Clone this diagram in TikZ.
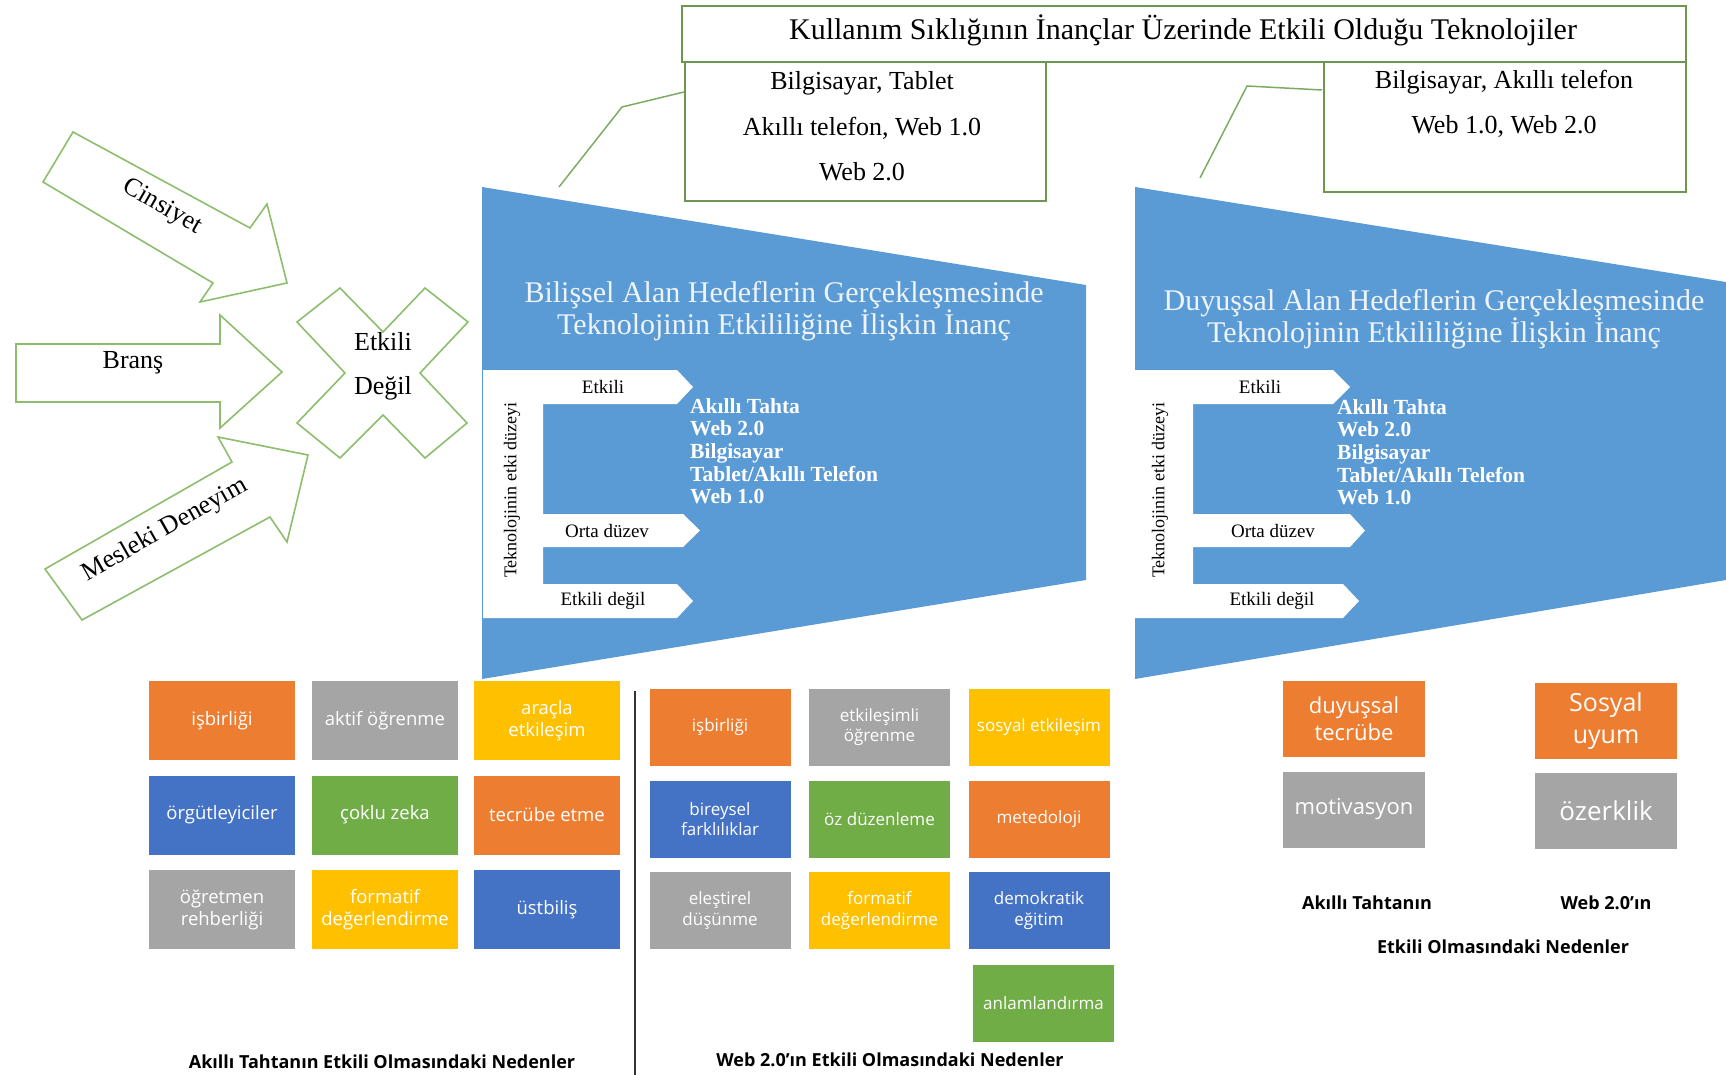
\documentclass[tikz,border=0pt]{standalone}
\usepackage{fontspec}
\setmainfont{Liberation Serif}
\newfontfamily\boxfont{Open Sans}
\definecolor{fblue}{RGB}{91,155,213}
\definecolor{corange}{RGB}{237,125,49}
\definecolor{cgray}{RGB}{165,165,165}
\definecolor{cgold}{RGB}{255,192,0}
\definecolor{cblue}{RGB}{68,114,196}
\definecolor{cgreen}{RGB}{112,173,71}
\definecolor{aline}{RGB}{140,190,110}
\definecolor{bline}{RGB}{110,150,80}
\definecolor{ftext}{RGB}{238,244,250}
\begin{document}
\begin{tikzpicture}[x=1pt,y=-1pt,
  arrowshape/.style={draw=aline,line width=1.6pt,fill=white,line join=miter},
  funnel/.style={fill=fblue},
  whiteE/.style={fill=white},
  bigserif/.style={font=\fontsize{26}{30}\selectfont,inner sep=0pt},
  ftitle/.style={font=\fontsize{30}{31}\selectfont,text=ftext,align=center,inner sep=0pt},
  lvl/.style={font=\fontsize{19}{22}\selectfont,inner sep=0pt},
  vert/.style={font=\fontsize{18}{20}\selectfont,rotate=90,inner sep=0pt},
  techlist/.style={font=\bfseries\fontsize{21.5}{22.7}\selectfont,text=white,align=left,anchor=north west,inner sep=0pt},
  topbox/.style={draw=bline,line width=1.4pt,inner sep=0pt},
  subtext/.style={font=\fontsize{26}{30}\selectfont,inner sep=0pt},
  tile/.style={minimum width=146pt,minimum height=79pt,inner sep=2pt,text=white,align=center,font=\boxfont\fontsize{18.5}{22}\selectfont},
  mtile/.style={minimum width=141pt,minimum height=77pt,inner sep=2pt,text=white,align=center,font=\boxfont\fontsize{17}{20.5}\selectfont},
  rtile/.style={minimum width=142pt,minimum height=76pt,inner sep=2pt,text=white,align=center,font=\boxfont\fontsize{22}{27}\selectfont},
  captext/.style={font=\boxfont\bfseries\fontsize{18}{20}\selectfont,inner sep=0pt},
  conn/.style={draw=aline!90!black,line width=1.5pt}
]
\useasboundingbox (0,0) rectangle (1726,1075);

% ---------- left input arrows ----------
\draw[arrowshape] (73,132) -- (250,228) -- (267,204) -- (287,283) -- (200,302) -- (213,283) -- (43,182) -- cycle;
\draw[arrowshape] (16,344) -- (220,344) -- (220,315) -- (282,372) -- (220,428) -- (220,402) -- (16,402) -- cycle;
\draw[arrowshape] (45,569) -- (232,462) -- (218,437) -- (308,455) -- (287,542) -- (270,517) -- (82,620) -- cycle;
\node[bigserif,rotate=-30] (cins) at (162,207) {Cinsiyet};
\node[bigserif] (brans) at (133,363) {Branş};
\node[bigserif,rotate=29.5] (mesl) at (165,530) {Mesleki Deneyim};

% ---------- X shape ----------
\draw[arrowshape] (340,288) -- (383,332) -- (425,288) -- (468,322) -- (420,373) -- (467,423) -- (425,458) -- (383,415) -- (340,458) -- (297,423) -- (345,373) -- (297,322) -- cycle;
\node[bigserif] (etk) at (383,342) {Etkili};
\node[bigserif] (deg) at (383,388) {Değil};

% ---------- top boxes ----------
\node[topbox,minimum width=1004pt,minimum height=56pt] (title) at (1184,34) {};
\node[font=\fontsize{30}{32}\selectfont,inner sep=0pt] (titletext) at (1183,30) {Kullanım Sıklığının İnançlar Üzerinde Etkili Olduğu Teknolojiler};
\node[topbox,minimum width=361pt,minimum height=139pt] (sub1) at (865.5,131.5) {};
\node[topbox,minimum width=362pt,minimum height=130pt] (sub2) at (1505,127) {};
\node[subtext] (s1a) at (862,83) {Bilgisayar, Tablet};
\node[subtext] (s1b) at (862,128) {Akıllı telefon, Web 1.0};
\node[subtext] (s1c) at (862,172) {Web 2.0};
\node[subtext] (s2a) at (1504,82) {Bilgisayar, Akıllı telefon};
\node[subtext] (s2b) at (1504,126) {Web 1.0, Web 2.0};

% ---------- funnels ----------
\fill[funnel] (482,187) -- (1086,285) -- (1086,580) -- (482,679) -- cycle;
\fill[funnel] (1135,187) -- (1726,282) -- (1726,580) -- (1135,679) -- cycle;

\fill[whiteE] (483,370) -- (677,370) -- (693,387) -- (677,404) -- (543,404) -- (543,514) -- (683,514) -- (700,530.5) -- (683,547) -- (543,547) -- (543,584) -- (677,584) -- (693,601) -- (677,618) -- (483,618) -- cycle;
\fill[whiteE] (1135,370) -- (1333,370) -- (1350,387) -- (1333,404) -- (1193,404) -- (1193,514) -- (1350,514) -- (1365,530.5) -- (1350,547) -- (1193,547) -- (1193,584) -- (1343,584) -- (1359,601) -- (1343,618) -- (1135,618) -- cycle;

\node[ftitle] (ft1) at (784,311) {Bilişsel Alan Hedeflerin Gerçekleşmesinde\\Teknolojinin Etkililiğine İlişkin İnanç};
\node[ftitle] (ft2) at (1434,319) {Duyuşsal Alan Hedeflerin Gerçekleşmesinde\\Teknolojinin Etkililiğine İlişkin İnanç};

\node[lvl] (l1a) at (603,387) {Etkili};
\node[lvl] (l1b) at (607,531) {Orta düzev};
\node[lvl] (l1c) at (603,601) {Etkili değil};
\node[vert] (v1) at (512,490) {Teknolojinin etki düzeyi};
\node[lvl] (l2a) at (1260,387) {Etkili};
\node[lvl] (l2b) at (1273,531) {Orta düzev};
\node[lvl] (l2c) at (1272,601) {Etkili değil};
\node[vert] (v2) at (1160,490) {Teknolojinin etki düzeyi};

\node[techlist] (tl1) at (690,398) {Akıllı Tahta\\Web 2.0\\Bilgisayar\\Tablet/Akıllı Telefon\\Web 1.0};
\node[techlist] (tl2) at (1337,399) {Akıllı Tahta\\Web 2.0\\Bilgisayar\\Tablet/Akıllı Telefon\\Web 1.0};

% ---------- connectors ----------
\coordinate (k1a) at (559,187);
\coordinate (k1b) at (622,107);
\coordinate (k1c) at (684,92);
\coordinate (k2a) at (1200,178);
\coordinate (k2b) at (1247,86);
\coordinate (k2c) at (1322,90);
\draw[conn] (k1a) -- (k1b) -- (k1c);
\draw[conn] (k2a) -- (k2b) -- (k2c);

% ---------- left tiles ----------
\node[tile,fill=corange] (a1) at (222,720.5) {işbirliği};
\node[tile,fill=cgray] (a2) at (385,720.5) {aktif öğrenme};
\node[tile,fill=cgold] (a3) at (547,720.5) {araçla\\etkileşim};
\node[tile,fill=cblue] (a4) at (222,815) {örgütleyiciler};
\node[tile,fill=cgreen] (a5) at (385,815) {çoklu zeka};
\node[tile,fill=corange] (a6) at (547,815) {tecrübe etme};
\node[tile,fill=cgray] (a7) at (222,909.5) {öğretmen\\rehberliği};
\node[tile,fill=cgold] (a8) at (385,909.5) {formatif\\değerlendirme};
\node[tile,fill=cblue] (a9) at (547,909.5) {üstbiliş};
\node[captext] (capA) at (382,1062) {Akıllı Tahtanın Etkili Olmasındaki Nedenler};

% divider
\coordinate (dv1) at (635,691);
\coordinate (dv2) at (635,1075);
\draw[line width=2.2pt,black!80] (dv1) -- (dv2);

% ---------- middle tiles ----------
\node[mtile,fill=corange] (b1) at (720,727) {işbirliği};
\node[mtile,fill=cgray] (b2) at (879.5,727) {etkileşimli\\öğrenme};
\node[mtile,fill=cgold] (b3) at (1039,727) {sosyal etkileşim};
\node[mtile,fill=cblue] (b4) at (720,819) {bireysel\\farklılıklar};
\node[mtile,fill=cgreen] (b5) at (879.5,819) {öz düzenleme};
\node[mtile,fill=corange] (b6) at (1039,819) {metedoloji};
\node[mtile,fill=cgray] (b7) at (720,910.5) {eleştirel\\düşünme};
\node[mtile,fill=cgold] (b8) at (879.5,910.5) {formatif\\değerlendirme};
\node[mtile,fill=cblue] (b9) at (1039,910.5) {demokratik\\eğitim};
\node[mtile,fill=cgreen] (b10) at (1043.5,1003) {anlamlandırma};
\node[captext] (capB) at (890,1060) {Web 2.0’ın Etkili Olmasındaki Nedenler};

% ---------- right tiles ----------
\node[rtile,fill=corange] (c1) at (1354,719) {duyuşsal\\tecrübe};
\node[rtile,fill=cgray] (c2) at (1354,809.5) {motivasyon};
\node[rtile,fill=corange,font=\boxfont\fontsize{25}{32}\selectfont] (c3) at (1606,720.5) {Sosyal\\uyum};
\node[rtile,fill=cgray,font=\boxfont\fontsize{26}{30}\selectfont] (c4) at (1606,811) {özerklik};
\node[captext] (capC1) at (1367,903) {Akıllı Tahtanın};
\node[captext] (capC2) at (1606,903) {Web 2.0’ın};
\node[captext] (capC3) at (1503,947) {Etkili Olmasındaki Nedenler};
\end{tikzpicture}
\end{document}
